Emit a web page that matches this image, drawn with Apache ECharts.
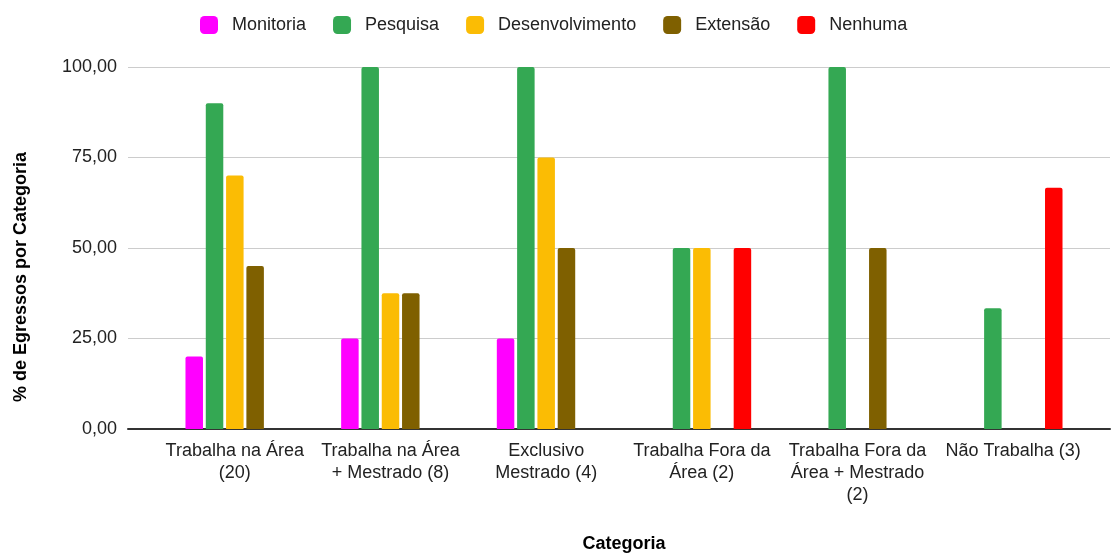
<!DOCTYPE html>
<html>
<head>
<meta charset="utf-8">
<title>Egressos por Categoria</title>
<script src="https://cdn.jsdelivr.net/npm/echarts@6/dist/echarts.min.js"></script>
<style>
    html, body { margin: 0; padding: 0; background: #fff; }
    #chart { width: 1112px; height: 554px; }
</style>
</head>
<body>
<div id="chart"></div>
<script>
// categorias do eixo x (quebras de linha como no original)
var categories = [
    'Trabalha na Área\n(20)',
    'Trabalha na Área\n+ Mestrado (8)',
    'Exclusivo\nMestrado (4)',
    'Trabalha Fora da\nÁrea (2)',
    'Trabalha Fora da\nÁrea + Mestrado\n(2)',
    'Não Trabalha (3)'
]
var seriesNames = ['Monitoria', 'Pesquisa', 'Desenvolvimento', 'Extensão', 'Nenhuma']
var seriesColors = ['#ff00ff', '#34a853', '#fbbc04', '#7f6000', '#ff0000']

// % de egressos por categoria
var monitoria = [20, 25, 25, 0, 0, 0]
var pesquisa = [90, 100, 100, 50, 100, 33.33]
var desenvolvimento = [70, 37.5, 75, 50, 0, 0]
var extensao = [45, 37.5, 50, 0, 50, 0]
var nenhuma = [0, 0, 0, 50, 0, 66.67]

var yTicks = [0, 25, 50, 75, 100]

;
(function () {
    var font = "'Liberation Sans', Arial, sans-serif"
    var values = [monitoria, pesquisa, desenvolvimento, extensao, nenhuma]

    var chart = echarts.init(document.getElementById('chart'), null, { renderer: 'canvas' })

    var series = seriesNames.map(function (name, i) {
        return {
            name: name,
            type: 'bar',
            xAxisIndex: 1,
            yAxisIndex: 1,
            barWidth: 17.5,
            barGap: '16%',
            itemStyle: { color: seriesColors[i], borderRadius: [2, 2, 0, 0] },
            data: values[i],
            z: 3,
        }
    })

    var option = {
        animation: false,
        textStyle: { fontFamily: font },
        legend: {
            data: seriesNames,
            left: 200,
            top: 16,
            padding: 0,
            itemWidth: 18,
            itemHeight: 18,
            itemGap: 27,
            icon: 'roundRect',
            textStyle: { fontSize: 18, color: '#222', fontFamily: font, padding: [0, 0, 0, 9] },
        },
        grid: [
            // grade de fundo (linhas e eixo y) mais larga que as barras
            { left: 128, right: 2, top: 67, bottom: 125, outerBoundsMode: 'none' },
            // grade das barras
            { left: 157, right: 21, top: 67, bottom: 125, outerBoundsMode: 'none' },
        ],
        xAxis: [
            {
                type: 'value',
                gridIndex: 0,
                min: 0,
                max: 1,
                axisLine: { show: true, onZero: false, lineStyle: { color: '#333', width: 2 } },
                axisTick: { show: false },
                axisLabel: { show: false },
                splitLine: { show: false },
            },
            {
                type: 'category',
                gridIndex: 1,
                data: categories,
                axisLine: { show: false },
                axisTick: { show: false },
                axisLabel: {
                    interval: 0,
                    margin: 11,
                    fontSize: 18,
                    lineHeight: 22,
                    color: '#222',
                    fontFamily: font,
                },
                name: 'Categoria',
                nameLocation: 'middle',
                nameGap: 106,
                nameTextStyle: { fontSize: 18, fontWeight: 'bold', color: '#000', fontFamily: font },
            },
        ],
        yAxis: [
            {
                type: 'value',
                gridIndex: 0,
                min: yTicks[0],
                max: yTicks[yTicks.length - 1],
                interval: 25,
                axisLine: { show: false },
                axisTick: { show: false },
                axisLabel: {
                    margin: 11,
                    fontSize: 18,
                    color: '#222',
                    fontFamily: font,
                    formatter: function (v) {
                        return v.toFixed(2).replace('.', ',')
                    },
                },
                splitLine: { lineStyle: { color: '#cccccc', width: 1 } },
            },
            {
                type: 'value',
                gridIndex: 1,
                min: yTicks[0],
                max: yTicks[yTicks.length - 1],
                show: false,
            },
        ],
        graphic: [
            { // título do eixo y, centrado na altura do gráfico
                type: 'text',
                x: 21,
                y: 277,
                rotation: Math.PI / 2,
                style: {
                    text: '% de Egressos por Categoria',
                    font: 'bold 18px ' + font,
                    fill: '#000',
                    textAlign: 'center',
                    textVerticalAlign: 'middle',
                },
            },
        ],
        series: series,
    }

    chart.setOption(option)
}())
</script>
</body>
</html>
